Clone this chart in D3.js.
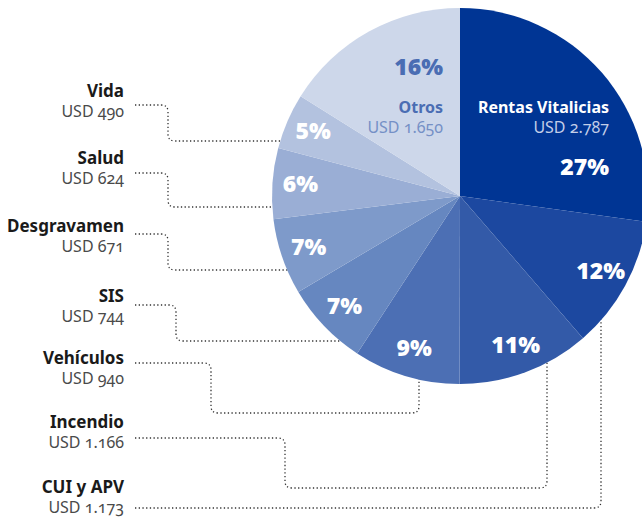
<!DOCTYPE html>
<html>
<head>
<meta charset="utf-8">
<script src="https://cdn.jsdelivr.net/npm/d3@7"></script>
<style>
  body { margin: 0; background: #fff; }
  svg { display: block; }
  .name { font-family: "Noto Sans", sans-serif; font-weight: 700; font-size: 17px; fill: #1a1a1a; }
  .usd { font-family: "Noto Sans", sans-serif; font-weight: 400; font-size: 16px; fill: #4a4a4a; font-variant-numeric: oldstyle-nums; }
  .pct { font-family: "Open Sans", sans-serif; font-weight: 800; font-size: 23px; fill: #fff; }
</style>
</head>
<body>
<div id="chart"></div>
<script>
var width = 642, height = 519;

// data, clockwise from 12 o'clock
var categories = ["Rentas Vitalicias", "CUI y APV", "Incendio", "Vehículos", "SIS",
  "Desgravamen", "Salud", "Vida", "Otros"];
var values = [2787, 1173, 1166, 940, 744, 671, 624, 490, 1650];
var colors = ["#003594", "#1c48a0", "#335aa8", "#4c6fb4", "#6687c0",
  "#7e9aca", "#9aaed5", "#b3c2df", "#cdd7ea"];

// left-side labels and their leader lines (layout only)
var leftLabels = ["Vida", "Salud", "Desgravamen", "SIS", "Vehículos", "Incendio", "CUI y APV"];
var nameY = [97, 164, 232, 302, 364, 428, 493];
var leaderY = [105, 173, 234, 305, 363, 438, 508];
// alternating x / y turns; the last segment runs to the pie edge
var leaderTurns = [[168, 141], [168, 207], [168, 270], [176, 341],
  [211, 413, 419], [285, 488, 547], [601]];

var cx = 460, cy = 196, radius = 188;

var fmt = function (v) {
  return "USD " + d3.format(",")(v).replace(/,/g, ".");
};

// whole-number shares that add up to 100 (largest remainder)
var total = d3.sum(values);
var raw = values.map(function (v) { return v / total * 100; });
var pcts = raw.map(Math.floor);
var order = d3.range(raw.length).sort(function (a, b) {
  return (raw[b] - pcts[b]) - (raw[a] - pcts[a]);
});
var missing = 100 - d3.sum(pcts);
for (var k = 0; k < missing; k++) pcts[order[k]] += 1;

var svg = d3.select("#chart").append("svg")
  .attr("width", width)
  .attr("height", height);

var pie = d3.pie().sort(null).value(function (d) { return d.value; });
var data = categories.map(function (c, i) {
  return { name: c, value: values[i], pct: pcts[i], color: colors[i] };
});
var arcs = pie(data);

var arc = d3.arc().innerRadius(0).outerRadius(radius);
var labelArc = d3.arc().innerRadius(160).outerRadius(160);

// leader lines
function edgeX(y) { return cx - Math.sqrt(radius * radius - (y - cy) * (y - cy)); }
function edgeY(x) { return cy + Math.sqrt(radius * radius - (x - cx) * (x - cx)); }

function leaderPoints(i) {
  var pts = [[135, leaderY[i]]];
  var x = 135, y = leaderY[i];
  leaderTurns[i].forEach(function (t, j) {
    if (j % 2 === 0) x = t; else y = t;
    pts.push([x, y]);
  });
  if (leaderTurns[i].length % 2 === 0) pts.push([edgeX(y) + 1, y]);
  else pts.push([x, edgeY(x) - 1]);
  return pts;
}

function rounded(pts, r) {
  var p = "M" + pts[0][0] + "," + pts[0][1];
  for (var i = 1; i < pts.length - 1; i++) {
    var a = pts[i - 1], b = pts[i], c = pts[i + 1];
    var d1 = Math.hypot(b[0] - a[0], b[1] - a[1]);
    var d2 = Math.hypot(c[0] - b[0], c[1] - b[1]);
    var rr = Math.min(r, d1 / 2, d2 / 2);
    var p1 = [b[0] - (b[0] - a[0]) / d1 * rr, b[1] - (b[1] - a[1]) / d1 * rr];
    var p2 = [b[0] + (c[0] - b[0]) / d2 * rr, b[1] + (c[1] - b[1]) / d2 * rr];
    p += "L" + p1[0] + "," + p1[1] + "Q" + b[0] + "," + b[1] + " " + p2[0] + "," + p2[1];
  }
  var last = pts[pts.length - 1];
  return p + "L" + last[0] + "," + last[1];
}

svg.append("g")
  .selectAll("path")
  .data(leftLabels)
  .enter()
  .append("path")
  .attr("d", function (d, i) { return rounded(leaderPoints(i), 7); })
  .style("fill", "none")
  .style("stroke", "#333")
  .style("stroke-width", 1.3)
  .style("stroke-dasharray", "1.3,2.4");

// pie
var g = svg.append("g").attr("transform", "translate(" + cx + "," + cy + ")");
g.selectAll("path.slice")
  .data(arcs)
  .enter()
  .append("path")
  .attr("class", "slice")
  .attr("d", arc)
  .style("fill", function (d) { return d.data.color; });

// percentages on the small slices
g.selectAll("text.pct")
  .data(arcs.filter(function (d) {
    return d.data.name !== "Rentas Vitalicias" && d.data.name !== "Otros";
  }))
  .enter()
  .append("text")
  .attr("class", "pct")
  .attr("text-anchor", "middle")
  .attr("dy", "0.3em")
  .attr("transform", function (d) { return "translate(" + labelArc.centroid(d) + ")"; })
  .text(function (d) { return d.data.pct + "%"; });

// Rentas Vitalicias and Otros carry their labels inside
var rv = data[0], ot = data[8];
var inner = svg.append("g");
inner.append("text").attr("class", "name").attr("x", 609).attr("y", 113)
  .attr("text-anchor", "end").style("fill", "#fff").style("font-size", "16px").text(rv.name);
inner.append("text").attr("class", "usd").attr("x", 609).attr("y", 133)
  .attr("text-anchor", "end").style("fill", "#c3cee8").text(fmt(rv.value));
inner.append("text").attr("class", "pct").attr("x", 609).attr("y", 175)
  .attr("text-anchor", "end").text(rv.pct + "%");

inner.append("text").attr("class", "name").attr("x", 443).attr("y", 113)
  .attr("text-anchor", "end").style("fill", "#4a6db3").style("font-size", "16px").text(ot.name);
inner.append("text").attr("class", "usd").attr("x", 443).attr("y", 133)
  .attr("text-anchor", "end").style("fill", "#7590c6").text(fmt(ot.value));
inner.append("text").attr("class", "pct").attr("x", 443).attr("y", 75)
  .attr("text-anchor", "end").style("fill", "#4a6db3").text(ot.pct + "%");

// left labels
var lab = svg.append("g").selectAll("g")
  .data(leftLabels)
  .enter()
  .append("g");
lab.append("text").attr("class", "name")
  .attr("x", 124).attr("y", function (d, i) { return nameY[i]; })
  .attr("text-anchor", "end")
  .text(function (d) { return d; });
lab.append("text").attr("class", "usd")
  .attr("x", 124).attr("y", function (d, i) { return nameY[i] + 20; })
  .attr("text-anchor", "end")
  .text(function (d) { return fmt(values[categories.indexOf(d)]); });
</script>
</body>
</html>
